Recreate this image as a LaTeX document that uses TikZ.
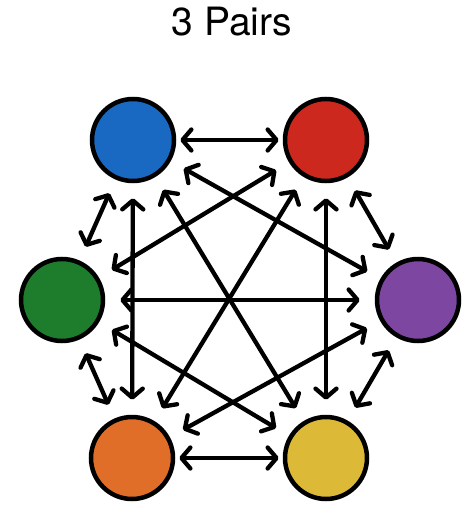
\documentclass[tikz,border=0pt]{standalone}
\usepackage{fontspec}
\setmainfont{TeX Gyre Heros}
\usetikzlibrary{arrows.meta}

\definecolor{azul}{RGB}{25,105,195}
\definecolor{rojo}{RGB}{205,40,30}
\definecolor{morado}{RGB}{125,70,160}
\definecolor{amarillo}{RGB}{220,185,55}
\definecolor{naranja}{RGB}{225,110,40}
\definecolor{verde}{RGB}{30,125,45}

\tikzset{
    bola/.style={circle, draw=black, line width=4.5pt, minimum size=82pt, inner sep=0pt},
    punta/.tip={Straight Barb[length=9pt, width=21pt, round]},
    flecha/.style={line width=4.3pt, punta-punta, shorten <=15pt, shorten >=15pt},
    corta/.style={flecha, shorten <=4pt, shorten >=4pt}
}

\begin{document}
\begin{tikzpicture}[x=1pt, y=-1pt]

    \useasboundingbox (0,0) rectangle (466,511);

    % Titulo
        \node (titulo) at (232,22) {\fontsize{39}{42}\selectfont 3 Pairs};

    % Bolas
        \node[bola, fill=azul] (az) at (133,140) {};
        \node[bola, fill=rojo] (ro) at (326,140) {};
        \node[bola, fill=morado] (mo) at (418,300) {};
        \node[bola, fill=amarillo] (am) at (326,458) {};
        \node[bola, fill=naranja] (na) at (132,458) {};
        \node[bola, fill=verde] (ve) at (62,300) {};

    % Lados
        \draw[corta] (az) -- (ro);
        \draw[flecha] (ro) -- (mo);
        \draw[flecha] (mo) -- (am);
        \draw[corta] (am) -- (na);
        \draw[flecha] (na) -- (ve);
        \draw[flecha] (ve) -- (az);

    % Cruces
        \draw[flecha] (az) -- (mo);
        \draw[flecha] (az) -- (am);
        \draw[flecha] (az) -- (na);
        \draw[flecha] (ro) -- (ve);
        \draw[flecha] (ro) -- (na);
        \draw[flecha] (ro) -- (am);
        \draw[flecha] (ve) -- (mo);
        \draw[flecha] (ve) -- (am);
        \draw[flecha] (mo) -- (na);

\end{tikzpicture}
\end{document}
